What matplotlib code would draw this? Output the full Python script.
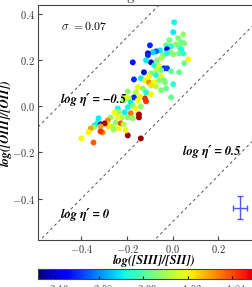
import matplotlib
matplotlib.use("Agg")
import matplotlib.pyplot as plt
import numpy as np

plt.rcParams['mathtext.fontset'] = 'cm'
plt.rcParams['font.family'] = 'cmr10'
plt.rcParams['axes.unicode_minus'] = False

title = "manga-8618-1901"
xlabel = "log([SIII]/[SII])"
ylabel = "log([OIII]/[OII])"
sigma_text = r"$\sigma\ {=}0.07$"

log_siii_sii = [0.006, 0.002, 0.046, 0.024, -0.016, 0.037, 0.050, 0.015, -0.029, -0.007,
                -0.100, 0.028, 0.037, -0.056, -0.025, -0.073, -0.087, -0.109, -0.109, -0.011,
                0.002, -0.042, -0.025, 0.028, 0.046, 0.068, 0.050, -0.175, -0.095, -0.117,
                -0.069, -0.051, -0.082, -0.060, -0.038, -0.025, -0.051, -0.073, -0.007, 0.028,
                -0.126, -0.095, -0.104, -0.073, -0.051, -0.170, -0.140, -0.122, -0.104, -0.082,
                -0.060, -0.038, -0.034, -0.095, -0.073, -0.153, -0.131, -0.029, -0.197, -0.162,
                -0.117, -0.095, -0.206, -0.170, -0.122, -0.192, -0.144, -0.007, -0.153, -0.117,
                -0.215, -0.184, -0.197, -0.241, -0.175, -0.237, -0.184, -0.153, -0.210, -0.254,
                -0.197, -0.175, -0.223, -0.148, -0.148, -0.241, -0.272, -0.325, -0.250, -0.285,
                -0.228, -0.215, -0.329, -0.343, -0.285, -0.281, -0.316, -0.298, -0.263, -0.316,
                -0.347, -0.360, -0.307, -0.316, -0.369, -0.400, -0.347, -0.197, -0.140, -0.259,
                -0.237, -0.206, -0.162, -0.140, -0.051, 0.002]
log_oiii_oii = [0.365, 0.322, 0.313, 0.296, 0.287, 0.278, 0.274, 0.270, 0.265, 0.261,
                0.265, 0.257, 0.248, 0.243, 0.248, 0.239, 0.235, 0.230, 0.222, 0.235,
                0.226, 0.222, 0.230, 0.230, 0.230, 0.204, 0.187, 0.191, 0.191, 0.200,
                0.200, 0.209, 0.178, 0.174, 0.165, 0.165, 0.157, 0.157, 0.152, 0.148,
                0.148, 0.143, 0.130, 0.135, 0.130, 0.117, 0.122, 0.113, 0.104, 0.104,
                0.113, 0.113, 0.104, 0.091, 0.087, 0.083, 0.078, 0.078, 0.065, 0.061,
                0.061, 0.052, 0.039, 0.039, 0.035, 0.035, 0.043, 0.039, 0.026, 0.022,
                0.026, 0.017, -0.004, -0.009, 0.004, -0.026, -0.030, -0.035, -0.026, -0.026,
                -0.048, -0.052, -0.048, -0.035, -0.048, -0.048, -0.048, -0.052, -0.070, -0.061,
                -0.074, -0.078, -0.070, -0.083, -0.078, -0.087, -0.078, -0.074, -0.087, -0.087,
                -0.091, -0.096, -0.113, -0.109, -0.113, -0.139, -0.157, -0.126, -0.139, -0.100,
                -0.096, -0.104, -0.009, 0.000, 0.070, 0.096]
color_value = [-2.035, -2.04, -1.97, -1.98, -1.98, -1.99, -1.98, -1.97, -2.00, -2.02,
               -2.12, -1.99, -2.03, -2.04, -2.15, -2.10, -2.05, -2.17, -2.12, -1.98,
               -1.97, -1.98, -2.03, -1.99, -2.02, -1.92, -1.99, -2.13, -2.17, -2.04,
               -1.98, -1.96, -2.03, -1.93, -2.12, -2.11, -1.98, -1.95, -1.99, -1.99,
               -2.16, -1.98, -1.92, -2.03, -1.93, -2.12, -2.04, -1.92, -1.87, -1.92,
               -1.97, -1.99, -1.98, -1.91, -1.95, -1.92, -1.97, -1.99, -1.97, -1.95,
               -2.03, -1.92, -1.92, -2.12, -1.83, -1.94, -1.92, -1.99, -1.92, -1.83,
               -1.97, -2.04, -2.03, -2.03, -1.98, -1.97, -1.86, -1.92, -2.04, -1.92,
               -1.98, -1.97, -1.95, -1.785, -1.785, -1.92, -1.97, -2.04, -1.97, -1.87,
               -1.84, -1.95, -2.03, -2.04, -1.92, -1.91, -2.13, -1.79, -1.95, -1.88,
               -1.97, -1.88, -1.87, -1.83, -1.92, -1.92, -1.85, -1.78, -1.78, -1.97,
               -1.92, -1.92, -1.92, -1.97, -1.98, -2.02]

eta_levels = [-0.5, 0.0, 0.5]
eta_labels = ["log η′ = −0.5", "log η′ = 0", "log η′ = 0.5"]
eta_label_x = [-0.49, -0.49, 0.046]
eta_label_y = [0.03, -0.47, -0.196]

err_x, err_y = [0.293], [-0.44]
err_dx, err_dy = [0.031], [0.05]

xticks = [-0.4, -0.2, 0.0, 0.2]
yticks = [-0.4, -0.2, 0.0, 0.2, 0.4]
cticks = [-2.16, -2.08, -2.00, -1.92, -1.84]
vmin, vmax = -2.19, -1.77
xlim = (-0.59, 0.43)
ylim = (-0.58, 0.44)

bi = dict(family=['STIXGeneral', 'DejaVu Serif'], style='italic', weight='bold')

W, H = 252, 287
fig = plt.figure(figsize=(W / 100, H / 100), dpi=100)
ax = fig.add_axes([38 / W, (H - 240) / H, 233 / W, 235 / H])
cax = fig.add_axes([38 / W, (H - 279) / H, 233 / W, 10 / H])

sc = ax.scatter(log_siii_sii, log_oiii_oii, c=color_value, cmap='jet', vmin=vmin, vmax=vmax,
                s=18, edgecolors='none', zorder=2)

xx = np.array(xlim)
for lev in eta_levels:
    ax.plot(xx, xx - lev, ls=(0, (3, 3)), color='#555555', lw=0.7, zorder=1)
for t, tx, ty in zip(eta_labels, eta_label_x, eta_label_y):
    ax.text(tx, ty, t, fontsize=9, va='center', ha='left', zorder=3, **bi)

ax.text(-0.49, 0.35, sigma_text, fontsize=8.5, va='center', ha='left')

ax.errorbar(err_x, err_y, xerr=err_dx, yerr=err_dy, fmt='none', ecolor='#5555ff',
            elinewidth=1.0, capsize=2, capthick=1.0)

ax.set_xlim(*xlim)
ax.set_ylim(*ylim)
ax.set_xticks(xticks)
ax.set_yticks(yticks)
ax.set_xticklabels([f"${v:.1f}$" for v in xticks])
ax.set_yticklabels([f"${v:.1f}$" for v in yticks])
ax.tick_params(direction='in', labelsize=7.5, pad=2, length=3, color='#444444',
               labelcolor='#333333')
for sp in ax.spines.values():
    sp.set_color('#444444')
ax.set_xlabel(xlabel, fontsize=9, labelpad=0, **bi)
ax.set_ylabel(ylabel, fontsize=9, labelpad=0, **bi)
ax.set_title(title, fontsize=10, pad=3.5)

cb = fig.colorbar(sc, cax=cax, orientation='horizontal', ticks=cticks)
cb.ax.set_xticklabels([f"${v:.2f}$" for v in cticks])
cb.ax.tick_params(direction='in', labelsize=7.5, pad=3, length=2, labelcolor='#333333')
cb.outline.set_edgecolor('#444444')

fig.savefig("out.png", dpi=100)
